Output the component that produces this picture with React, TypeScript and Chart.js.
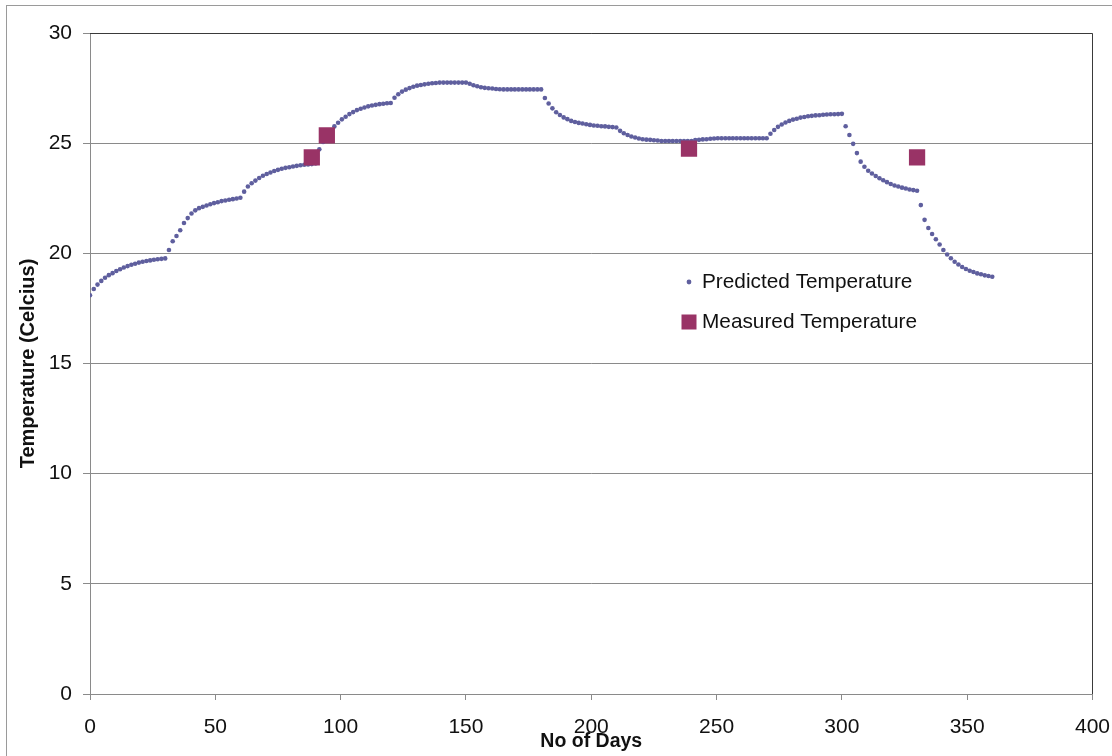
import React, { useEffect, useRef } from "react";
import { Chart, registerables } from "chart.js";

Chart.register(...registerables);

// Predicted temperature, one point every 1.5 days from day 0 to day 360
const predictedDayStep = 1.5;
const predictedTemperature: number[] = [
  18.10, 18.38, 18.58, 18.75, 18.89, 19.01, 19.10, 19.20, 19.28, 19.36,
  19.42, 19.48, 19.53, 19.58, 19.62, 19.65, 19.68, 19.71, 19.73, 19.75,
  19.77, 20.15, 20.55, 20.79, 21.05, 21.38, 21.60, 21.81, 21.95, 22.05,
  22.11, 22.17, 22.23, 22.28, 22.32, 22.37, 22.40, 22.43, 22.46, 22.49,
  22.52, 22.80, 23.03, 23.18, 23.30, 23.42, 23.52, 23.60, 23.67, 23.74,
  23.79, 23.84, 23.88, 23.91, 23.94, 23.97, 24.00, 24.02, 24.03, 24.05,
  24.08, 24.72, 25.05, 25.34, 25.57, 25.76, 25.93, 26.08, 26.20, 26.32,
  26.41, 26.50, 26.56, 26.62, 26.67, 26.71, 26.74, 26.77, 26.79, 26.81,
  26.82, 27.06, 27.22, 27.34, 27.43, 27.50, 27.56, 27.61, 27.64, 27.67,
  27.70, 27.72, 27.73, 27.75, 27.75, 27.75, 27.75, 27.75, 27.75, 27.75,
  27.75, 27.70, 27.63, 27.58, 27.54, 27.51, 27.49, 27.48, 27.46, 27.45,
  27.44, 27.44, 27.44, 27.44, 27.44, 27.44, 27.44, 27.44, 27.44, 27.44,
  27.44, 27.05, 26.80, 26.58, 26.40, 26.28, 26.17, 26.09, 26.01, 25.96,
  25.92, 25.89, 25.86, 25.83, 25.80, 25.79, 25.77, 25.76, 25.74, 25.73,
  25.71, 25.56, 25.45, 25.37, 25.30, 25.26, 25.21, 25.18, 25.16, 25.15,
  25.13, 25.12, 25.10, 25.10, 25.10, 25.10, 25.10, 25.10, 25.10, 25.10,
  25.10, 25.14, 25.15, 25.17, 25.18, 25.20, 25.21, 25.22, 25.22, 25.22,
  25.22, 25.22, 25.22, 25.22, 25.22, 25.22, 25.22, 25.22, 25.22, 25.22,
  25.22, 25.43, 25.60, 25.74, 25.85, 25.94, 26.01, 26.07, 26.11, 26.16,
  26.19, 26.22, 26.24, 26.26, 26.27, 26.29, 26.30, 26.31, 26.31, 26.32,
  26.33, 25.77, 25.37, 24.97, 24.55, 24.16, 23.93, 23.75, 23.62, 23.51,
  23.41, 23.32, 23.23, 23.15, 23.08, 23.03, 22.98, 22.94, 22.90, 22.87,
  22.84, 22.19, 21.52, 21.15, 20.88, 20.64, 20.40, 20.15, 19.95, 19.78,
  19.62, 19.49, 19.38, 19.29, 19.21, 19.15, 19.09, 19.05, 19.00, 18.97,
  18.94,
];

const measuredDays: number[] = [88.5, 94.5, 239, 330];
const measuredTemperature: number[] = [24.35, 25.35, 24.75, 24.35];

const xTicks: number[] = [0, 50, 100, 150, 200, 250, 300, 350, 400];
const yTicks: number[] = [0, 5, 10, 15, 20, 25, 30];

const predictedLabel = "Predicted Temperature";
const measuredLabel = "Measured Temperature";
const xTitle = "No of Days";
const yTitle = "Temperature (Celcius)";

const PRED_COLOR = "#5f5f9e";
const MEAS_COLOR = "#993366";
const FONT = "'Liberation Sans', Arial, sans-serif";

export default function App() {
  const ref = useRef<HTMLCanvasElement | null>(null);

  useEffect(() => {
    const canvas = ref.current;
    if (!canvas) return;

    const framePlugin = {
      id: "frameAndLegend",
      beforeDraw(chart: any) {
        const { ctx } = chart;
        ctx.save();
        ctx.fillStyle = "#ffffff";
        ctx.fillRect(0, 0, chart.width, chart.height);
        ctx.strokeStyle = "#9a9a9a";
        ctx.lineWidth = 1;
        ctx.strokeRect(6.5, 5.5, chart.width + 10, chart.height + 10);
        ctx.restore();
      },
      afterDraw(chart: any) {
        const { ctx, chartArea } = chart;
        ctx.save();
        // plot area border on top and right
        const r = Math.floor(chartArea.right) + 0.5;
        const t = Math.floor(chartArea.top) + 0.5;
        ctx.strokeStyle = "#3a3a3a";
        ctx.lineWidth = 1;
        ctx.beginPath();
        ctx.moveTo(chartArea.left, t);
        ctx.lineTo(r, t);
        ctx.lineTo(r, chartArea.bottom);
        ctx.stroke();

        // legend
        const lx = 689;
        const y1 = 282;
        const y2 = 322;
        ctx.fillStyle = PRED_COLOR;
        ctx.beginPath();
        ctx.arc(lx, y1, 2.4, 0, Math.PI * 2);
        ctx.fill();
        ctx.fillStyle = MEAS_COLOR;
        ctx.fillRect(lx - 7.5, y2 - 7.5, 15, 15);
        ctx.fillStyle = "#111111";
        ctx.font = `20.8px ${FONT}`;
        ctx.textBaseline = "middle";
        ctx.textAlign = "left";
        ctx.fillText(predictedLabel, 702, y1);
        ctx.fillText(measuredLabel, 702, y2);
        ctx.restore();
      },
    };

    const chart = new Chart(canvas, {
      type: "scatter",
      data: {
        datasets: [
          {
            label: measuredLabel,
            data: measuredDays.map((d, i) => ({ x: d, y: measuredTemperature[i] })),
            backgroundColor: MEAS_COLOR,
            borderColor: MEAS_COLOR,
            borderWidth: 0,
            pointStyle: "rect",
            pointRadius: 11.5,
            pointHoverRadius: 11.5,
          },
          {
            label: predictedLabel,
            data: predictedTemperature.map((v, i) => ({ x: i * predictedDayStep, y: v })),
            backgroundColor: PRED_COLOR,
            borderColor: PRED_COLOR,
            borderWidth: 0,
            pointStyle: "circle",
            pointRadius: 2.3,
            pointHoverRadius: 2.3,
          },
        ],
      },
      options: {
        responsive: false,
        animation: false,
        events: [],
        layout: { padding: { left: 0, top: 33, right: 19.5, bottom: 0 } },
        plugins: {
          legend: { display: false },
          tooltip: { enabled: false },
        },
        scales: {
          x: {
            type: "linear",
            min: 0,
            max: 400,
            afterFit: (s: any) => {
              s.height = 62;
              s.paddingLeft = 0;
              s.paddingRight = 0;
            },
            afterBuildTicks: (s: any) => {
              s.ticks = xTicks.map((v) => ({ value: v }));
            },
            ticks: {
              color: "#111111",
              font: { family: FONT, size: 21 },
              padding: 15,
              maxRotation: 0,
            },
            grid: {
              drawOnChartArea: false,
              drawTicks: true,
              tickLength: 6,
              color: "#8a8a8a",
            },
            border: { display: true, color: "#8a8a8a", width: 1 },
            title: {
              display: true,
              text: xTitle,
              color: "#111111",
              font: { family: FONT, size: 19.5, weight: "bold" },
              padding: { top: 0, bottom: 3 },
            },
          },
          y: {
            type: "linear",
            min: 0,
            max: 30,
            afterFit: (s: any) => {
              s.width = 90;
              s.paddingTop = 0;
              s.paddingBottom = 0;
            },
            afterBuildTicks: (s: any) => {
              s.ticks = yTicks.map((v) => ({ value: v }));
            },
            ticks: {
              color: "#111111",
              font: { family: FONT, size: 21 },
              padding: 11,
            },
            grid: {
              drawOnChartArea: true,
              drawTicks: true,
              tickLength: 7,
              color: "#8a8a8a",
            },
            border: { display: true, color: "#8a8a8a", width: 1 },
            title: {
              display: true,
              text: yTitle,
              color: "#111111",
              font: { family: FONT, size: 20, weight: "bold" },
              padding: { top: 16, bottom: 0 },
            },
          },
        },
      },
      plugins: [framePlugin],
    } as any);

    return () => {
      chart.destroy();
    };
  }, []);

  return (
    <div style={{ position: "absolute", left: 0, top: 0, width: 1112, height: 756 }}>
      <canvas ref={ref} width={1112} height={756} style={{ display: "block", width: 1112, height: 756 }} />
    </div>
  );
}
